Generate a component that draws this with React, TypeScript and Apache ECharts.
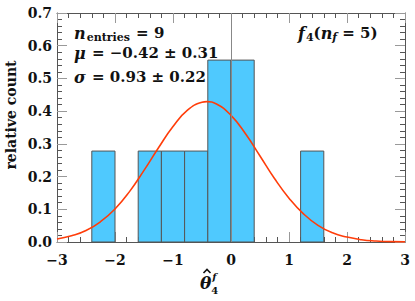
import React, { useEffect, useRef } from "react";
import * as echarts from "echarts";

const binLeft = [-2.4, -1.6, -1.2, -0.8, -0.4, 0.0, 1.2];
const binRight = [-2.0, -1.2, -0.8, -0.4, 0.0, 0.4, 1.6];
const binValues = [0.278, 0.278, 0.278, 0.278, 0.556, 0.556, 0.278];

const curveX = [-3, -2.75, -2.5, -2.25, -2, -1.75, -1.5, -1.25, -1, -0.75, -0.5, -0.42, -0.25, 0, 0.25, 0.5, 0.75, 1, 1.25, 1.5, 1.75, 2, 2.25, 2.5, 2.75, 3];
const curveY = [0.009, 0.019, 0.035, 0.062, 0.101, 0.154, 0.219, 0.288, 0.353, 0.403, 0.427, 0.429, 0.422, 0.387, 0.331, 0.263, 0.194, 0.134, 0.086, 0.051, 0.028, 0.015, 0.007, 0.003, 0.001, 0.0005];

const xRange = [-3, 3];
const yRange = [0, 0.7];

const FONT = "DejaVu Serif";

const measureCtx = typeof document !== "undefined" ? document.createElement("canvas").getContext("2d") : null;
function measure(t: string, size: number, italic: boolean) {
  if (!measureCtx) return t.length * size * 0.6;
  measureCtx.font = `${italic ? "italic " : ""}bold ${size}px "${FONT}"`;
  return measureCtx.measureText(t).width;
}

type Piece = { t: string; size: number; italic?: boolean; dy?: number; dx?: number };

function textRun(x0: number, y: number, pieces: Piece[]) {
  const els: any[] = [];
  let x = x0;
  for (const p of pieces) {
    x += p.dx || 0;
    els.push({
      type: "text",
      x,
      y: y + (p.dy || 0),
      z: 100,
      style: {
        text: p.t,
        fontFamily: FONT,
        fontWeight: "bold",
        fontStyle: p.italic ? "italic" : "normal",
        fontSize: p.size,
        fill: "#111",
        verticalAlign: "middle",
        align: "left",
      },
    });
    x += measure(p.t, p.size, !!p.italic);
  }
  return els;
}

export default function App() {
  const ref = useRef<HTMLDivElement>(null);
  useEffect(() => {
    if (!ref.current) return;
    const chart = echarts.init(ref.current, undefined, { renderer: "svg" });
    const histData = binLeft.map((l, i) => [l, binRight[i], binValues[i]]);
    const curveData = curveX.map((x, i) => [x, curveY[i]]);
    const axisCommon = {
      type: "value" as const,
      axisLine: { show: true, onZero: false, lineStyle: { color: "#555", width: 1 } },
      splitLine: { show: false },
    };
    const tickCommon = {
      axisTick: { show: true, inside: true, length: 10, lineStyle: { color: "#999" } },
      minorTick: { show: true, splitNumber: 5, length: 5, lineStyle: { color: "#555" } },
    };
    const labelCommon = {
      fontFamily: FONT,
      fontWeight: "bold",
      fontSize: 14,
      color: "#111",
    };
    const thetaW = measure("θ", 17, true);
    const graphics = [
      ...textRun(74, 33, [
        { t: "n", size: 16, italic: true },
        { t: "entries", size: 11, dy: 4, dx: 1 },
        { t: " = 9", size: 15, dx: 1 },
      ]),
      ...textRun(74, 53, [
        { t: "μ", size: 16, italic: true },
        { t: " = −0.42 ± 0.31", size: 15, dx: 1 },
      ]),
      ...textRun(74, 77, [
        { t: "σ", size: 16, italic: true },
        { t: " = 0.93 ± 0.22", size: 15, dx: 1 },
      ]),
      ...textRun(298, 33, [
        { t: "f", size: 16, italic: true },
        { t: "4", size: 11, dy: 4, dx: 1 },
        { t: "(", size: 15 },
        { t: "n", size: 16, italic: true },
        { t: "f", size: 11, italic: true, dy: 4 },
        { t: " = 5)", size: 15 },
      ]),
      ...textRun(200, 283, [{ t: "θ", size: 17, italic: true }]),
      ...textRun(200 + thetaW, 290, [{ t: "4", size: 10 }]),
      ...textRun(201 + thetaW, 276, [{ t: "f", size: 10, italic: true }]),
      {
        type: "polyline",
        z: 100,
        shape: { points: [[203.5, 273], [207, 269.5], [210.5, 273]] },
        style: { stroke: "#111", lineWidth: 1.6, fill: null },
      },
      {
        type: "text",
        x: 11,
        y: 115,
        rotation: Math.PI / 2,
        z: 100,
        style: {
          text: "relative count",
          fontFamily: FONT,
          fontWeight: "bold",
          fontSize: 14,
          fill: "#111",
          align: "center",
          verticalAlign: "middle",
        },
      },
    ];
    chart.setOption({
      animation: false,
      backgroundColor: "#fff",
      grid: { left: 57, right: 10, top: 13, bottom: 59 },
      xAxis: [
        {
          ...axisCommon,
          ...tickCommon,
          min: xRange[0],
          max: xRange[1],
          interval: 1,
          position: "bottom",
          axisLabel: {
            ...labelCommon,
            show: true,
            margin: 11,
            formatter: (v: number) => (v < 0 ? "−" + Math.abs(v) : String(v)),
          },
        },
        {
          ...axisCommon,
          ...tickCommon,
          min: xRange[0],
          max: xRange[1],
          interval: 1,
          position: "top",
          axisLabel: { show: false },
        },
      ],
      yAxis: [
        {
          ...axisCommon,
          ...tickCommon,
          min: yRange[0],
          max: yRange[1],
          interval: 0.1,
          position: "left",
          axisLabel: {
            ...labelCommon,
            show: true,
            margin: 5,
            formatter: (v: number) => v.toFixed(1),
          },
        },
        {
          ...axisCommon,
          ...tickCommon,
          min: yRange[0],
          max: yRange[1],
          interval: 0.1,
          position: "right",
          axisLabel: { show: false },
        },
      ],
      series: [
        {
          type: "custom",
          xAxisIndex: 0,
          yAxisIndex: 0,
          data: histData,
          z: 2,
          renderItem: (params: any, api: any) => {
            const p0 = api.coord([api.value(0), api.value(2)]);
            const p1 = api.coord([api.value(1), 0]);
            return {
              type: "rect",
              shape: { x: p0[0], y: p0[1], width: p1[0] - p0[0], height: p1[1] - p0[1] },
              style: { fill: "#4fc9fe", stroke: "#555", lineWidth: 1 },
            };
          },
        },
        {
          type: "line",
          xAxisIndex: 0,
          yAxisIndex: 0,
          data: curveData,
          smooth: true,
          showSymbol: false,
          symbol: "none",
          z: 4,
          lineStyle: { color: "#ff3d0a", width: 1.6 },
          markLine: {
            silent: true,
            symbol: "none",
            label: { show: false },
            lineStyle: { color: "#888", width: 1, type: "solid" },
            data: [{ xAxis: 0 }],
          },
        },
      ],
      graphic: graphics,
    });
    return () => chart.dispose();
  }, []);
  return <div ref={ref} style={{ width: 415, height: 301, position: "absolute", left: 0, top: 0 }} />;
}
